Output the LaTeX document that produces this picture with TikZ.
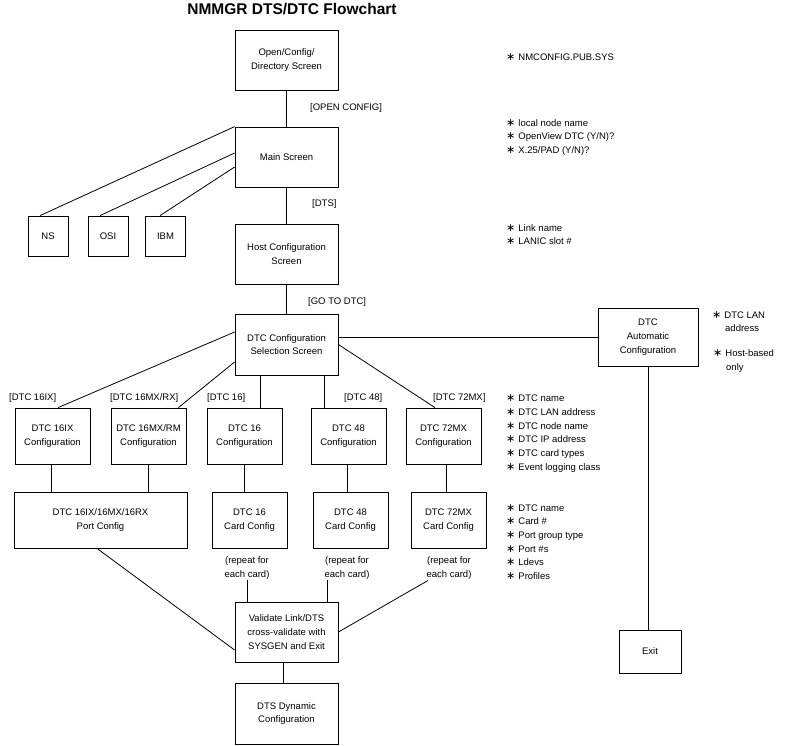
\documentclass[tikz,border=0pt]{standalone}
\usepackage{fontspec}
\setmainfont{Liberation Sans}
\newfontfamily\starfont{DejaVu Sans}
\usetikzlibrary{calc,positioning}

\newcommand{\itm}{{\starfont\fontsize{11}{11}\selectfont ∗}\hspace{3pt}}

\begin{document}
\begin{tikzpicture}[x=1pt,y=-1pt,
    every node/.style={font=\fontsize{9.5}{13.7}\selectfont},
    box/.style={draw,line width=0.8pt,align=center,inner sep=0pt,
        minimum width=103pt,minimum height=60pt},
    cfgbox/.style={box,minimum width=75pt,minimum height=56pt},
    protobox/.style={box,minimum width=40pt,minimum height=40pt},
    choice/.style={anchor=west,inner sep=0pt},
    notes/.style={anchor=west,align=left,inner sep=0pt},
    link/.style={line width=0.8pt}]
    \useasboundingbox (0,0) rectangle (789,745);

    \node[font=\fontsize{15.5}{18}\selectfont\bfseries] (title) at (292,9.5) {NMMGR DTS/DTC Flowchart};

    % main column
    \node[box] (open) at (286.5,60) {Open/Config/\\Directory Screen};
    \node[box] (main) at (286.5,157) {Main Screen};
    \node[box] (host) at (286.5,254) {Host Configuration\\Screen};
    \node[box,minimum height=61pt] (sel) at (286.5,344.5) {DTC Configuration\\Selection Screen};
    \node[box] (valid) at (286.5,632) {Validate Link/DTS\\cross-validate with\\SYSGEN and Exit};
    \node[box,minimum height=61pt] (dyn) at (286.5,713.5) {DTS Dynamic\\Configuration};

    \node[protobox] (ns) at (48,236) {NS};
    \node[protobox] (osi) at (108,236) {OSI};
    \node[protobox] (ibm) at (165.5,236) {IBM};

    \node[box,minimum width=100pt,minimum height=58pt] (auto) at (648,337) {DTC\\Automatic\\Configuration};
    \node[box,minimum width=62pt,minimum height=43pt] (exit) at (650,651.5) {Exit};

    % DTC types
    \node[cfgbox] (c16ix) at (52.5,436) {DTC 16IX\\Configuration};
    \node[cfgbox] (c16mx) at (148.5,436) {DTC 16MX/RM\\Configuration};
    \node[cfgbox] (c16) at (244.5,436) {DTC 16\\Configuration};
    \node[cfgbox] (c48) at (348.5,436) {DTC 48\\Configuration};
    \node[cfgbox] (c72) at (443.5,436) {DTC 72MX\\Configuration};

    \node[cfgbox,minimum width=173pt] (port) at (100.5,520) {DTC 16IX/16MX/16RX\\Port Config};
    \node[cfgbox] (card16) at (249.5,520) {DTC 16\\Card Config};
    \node[cfgbox] (card48) at (350.5,520) {DTC 48\\Card Config};
    \node[cfgbox] (card72) at (448.5,520) {DTC 72MX\\Card Config};

    \node[align=center,inner sep=1pt] (rep16) at (247,568) {(repeat for\\each card)};
    \node[align=center,inner sep=1pt] (rep48) at (347,568) {(repeat for\\each card)};
    \node[align=center,inner sep=1pt] (rep72) at (449,568) {(repeat for\\each card)};

    % labels on the connectors
    \node[choice] (lopen) at (310,108) {[OPEN CONFIG]};
    \node[choice] (ldts) at (312,204) {[DTS]};
    \node[choice] (lgo) at (308,302) {[GO TO DTC]};
    \node[choice] (l16ix) at (9,398) {[DTC 16IX]};
    \node[choice] (l16mx) at (110,398) {[DTC 16MX/RX]};
    \node[choice] (l16) at (207,398) {[DTC 16]};
    \node[choice] (l48) at (344,398) {[DTC 48]};
    \node[choice] (l72) at (433,398) {[DTC 72MX]};

    % notes
    \node[notes] (nopen) at (506,57) {\itm NMCONFIG.PUB.SYS};
    \node[notes] (nmain) at (506,137.5) {\itm local node name\\\itm OpenView DTC (Y/N)?\\\itm X.25/PAD (Y/N)?};
    \node[notes] (nhost) at (506,234.5) {\itm Link name\\\itm LANIC slot \#};
    \node[notes] (ndtc) at (506,433.5) {\itm DTC name\\\itm DTC LAN address\\\itm DTC node name\\\itm DTC IP address\\\itm DTC card types\\\itm Event logging class};
    \node[notes] (ncard) at (506,542) {\itm DTC name\\\itm Card \#\\\itm Port group type\\\itm Port \#s\\\itm Ldevs\\\itm Profiles};
    \node[notes] (nlan) at (712,321.5) {\itm DTC LAN\\\hspace*{13pt}address};
    \node[notes] (nhb) at (713,361) {\itm Host-based\\\hspace*{13pt}only};

    % connectors
    \draw[link] (open) -- (main);
    \draw[link] (main) -- (host);
    \draw[link] (host) -- (sel);
    \draw[link] ([xshift=-8pt]ns.north) -- (main.north west);
    \draw[link] ([xshift=-8pt]osi.north) -- ([yshift=4pt]main.west);
    \draw[link] ([xshift=-5.5pt]ibm.north) -- ([yshift=-10pt]main.west);
    \draw[link] (auto.west) -- (auto.west -| sel.east);
    \draw[link] (auto.south) -- (auto.south |- exit.north);
    \draw[link] ([yshift=12.5pt]sel.west) -- ([xshift=5.5pt]c16ix.north);
    \draw[link] ([yshift=-17.5pt]sel.west) -- ([xshift=-8pt]c16mx.north east);
    \draw[link] ([xshift=-26.5pt]sel.south) -- ([xshift=-26.5pt]sel.south |- c16.north);
    \draw[link] ([xshift=37.5pt]sel.south) -- ([xshift=37.5pt]sel.south |- c48.north);
    \draw[link] (sel.east) -- ([xshift=-8.5pt]c72.north);
    \draw[link] ([xshift=-1.5pt]c16ix.south) -- ([xshift=-1.5pt]c16ix.south |- port.north);
    \draw[link] (c16mx.south) -- (c16mx.south |- port.north);
    \draw[link] (c16.south) -- (c16.south |- card16.north);
    \draw[link] ([xshift=-1.5pt]c48.south) -- ([xshift=-1.5pt]c48.south |- card48.north);
    \draw[link] ([xshift=3pt]c72.south) -- ([xshift=3pt]c72.south |- card72.north);
    \draw[link] ([xshift=-3.5pt]port.south) -- ([yshift=-18pt]valid.west);
    \draw[link] (rep16.south) -- (rep16.south |- valid.north);
    \draw[link] ([xshift=-20pt]rep48.south) -- ([xshift=-20pt]rep48.south |- valid.north);
    \draw[link] ([xshift=-21pt]rep72.south) -- (valid.east);
    \draw[link] ([xshift=-3pt]valid.south) -- ([xshift=-3pt]valid.south |- dyn.north);
\end{tikzpicture}
\end{document}
